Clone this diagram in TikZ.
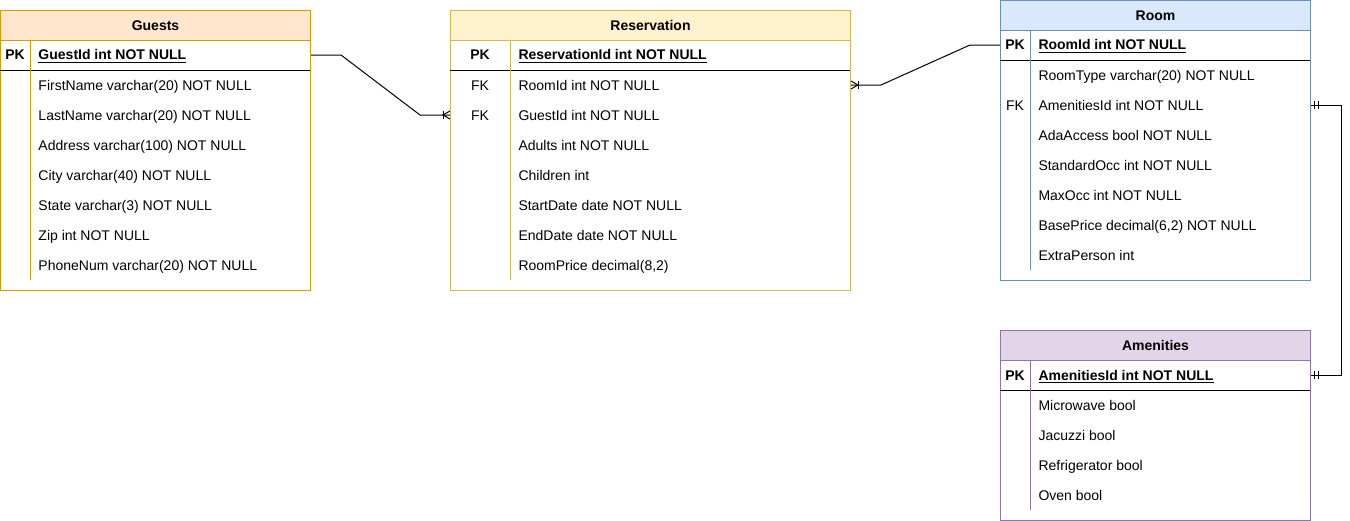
\documentclass[tikz,border=0pt]{standalone}
\usepackage{fontspec}
\setmainfont{Liberation Sans}
\usetikzlibrary{positioning, calc}

\definecolor{guestfill}{HTML}{FFE6CC}
\definecolor{guestline}{HTML}{D79B00}
\definecolor{resfill}{HTML}{FFF2CC}
\definecolor{resline}{HTML}{D6B656}
\definecolor{roomfill}{HTML}{DAE8FC}
\definecolor{roomline}{HTML}{6C8EBF}
\definecolor{amenfill}{HTML}{E1D5E7}
\definecolor{amenline}{HTML}{9673A6}

\begin{document}
\begin{tikzpicture}[x=0.75pt, y=-0.75pt, line width=0.75pt,
  every node/.style={font=\fontsize{10.5}{12}\selectfont, inner sep=0pt, text height=7.5pt, text depth=0pt},
  field/.style={anchor=west},
  keyfield/.style={anchor=west, font=\fontsize{10.5}{12}\selectfont\bfseries},
  keytag/.style={font=\fontsize{10.5}{12}\selectfont\bfseries},
  head/.style={draw, font=\fontsize{10.5}{12}\selectfont\bfseries, minimum height=22.5pt, anchor=north west},
  body/.style={draw, anchor=north west}]
\useasboundingbox (0,0) rectangle (1350,521);

% Guests
\node[head, fill=guestfill, draw=guestline, minimum width=232.5pt] (guests-head) at (0,10) {Guests};
\node[body, draw=guestline, minimum width=232.5pt, minimum height=187.5pt] (guests) at (0,40) {};
\draw (guests.north west) ++(0,30) -- ++(310,0);
\draw[guestline] (guests.north west) ++(30,0) -- ++(0,240);
\node[keytag] (g-pk-tag) at (15,55) {PK};
\node[keyfield] (g-pk) at (38,55) {\underline{GuestId int NOT NULL}};
\node[field] (g-first) at (38,85) {FirstName varchar(20) NOT NULL};
\node[field] (g-last) at (38,115) {LastName varchar(20) NOT NULL};
\node[field] (g-addr) at (38,145) {Address varchar(100) NOT NULL};
\node[field] (g-city) at (38,175) {City varchar(40) NOT NULL};
\node[field] (g-state) at (38,205) {State varchar(3) NOT NULL};
\node[field] (g-zip) at (38,235) {Zip int NOT NULL};
\node[field] (g-phone) at (38,265) {PhoneNum varchar(20) NOT NULL};

% Reservation
\node[head, fill=resfill, draw=resline, minimum width=300pt] (res-head) at (450,10) {Reservation};
\node[body, draw=resline, minimum width=300pt, minimum height=187.5pt] (res) at (450,40) {};
\draw (res.north west) ++(0,30) -- ++(400,0);
\draw[resline] (res.north west) ++(60,0) -- ++(0,240);
\node[keytag] (r-pk-tag) at (480,55) {PK};
\node[keyfield] (r-pk) at (518,55) {\underline{ReservationId int NOT NULL}};
\node (r-rid-tag) at (480,85) {FK};
\node[field] (r-rid) at (518,85) {RoomId int NOT NULL};
\node (r-gid-tag) at (480,115) {FK};
\node[field] (r-gid) at (518,115) {GuestId int NOT NULL};
\node[field] (r-adults) at (518,145) {Adults int NOT NULL};
\node[field] (r-child) at (518,175) {Children int};
\node[field] (r-start) at (518,205) {StartDate date NOT NULL};
\node[field] (r-end) at (518,235) {EndDate date NOT NULL};
\node[field] (r-price) at (518,265) {RoomPrice decimal(8,2)};

% Room
\node[head, fill=roomfill, draw=roomline, minimum width=232.5pt] (room-head) at (1000,0) {Room};
\node[body, draw=roomline, minimum width=232.5pt, minimum height=187.5pt] (room) at (1000,30) {};
\draw (room.north west) ++(0,30) -- ++(310,0);
\draw[roomline] (room.north west) ++(30,0) -- ++(0,240);
\node[keytag] (m-pk-tag) at (1015,45) {PK};
\node[keyfield] (m-pk) at (1038,45) {\underline{RoomId int NOT NULL}};
\node[field] (m-type) at (1038,75) {RoomType varchar(20) NOT NULL};
\node (m-aid-tag) at (1015,105) {FK};
\node[field] (m-aid) at (1038,105) {AmenitiesId int NOT NULL};
\node[field] (m-ada) at (1038,135) {AdaAccess bool NOT NULL};
\node[field] (m-std) at (1038,165) {StandardOcc int NOT NULL};
\node[field] (m-max) at (1038,195) {MaxOcc int NOT NULL};
\node[field] (m-base) at (1038,225) {BasePrice decimal(6,2) NOT NULL};
\node[field] (m-extra) at (1038,255) {ExtraPerson int};

% Amenities
\node[head, fill=amenfill, draw=amenline, minimum width=232.5pt] (amen-head) at (1000,330) {Amenities};
\node[body, draw=amenline, minimum width=232.5pt, minimum height=120pt] (amen) at (1000,360) {};
\draw (amen.north west) ++(0,30) -- ++(310,0);
\draw[amenline] (amen.north west) ++(30,0) -- ++(0,150);
\node[keytag] (a-pk-tag) at (1015,375) {PK};
\node[keyfield] (a-pk) at (1038,375) {\underline{AmenitiesId int NOT NULL}};
\node[field] (a-micro) at (1038,405) {Microwave bool};
\node[field] (a-jac) at (1038,435) {Jacuzzi bool};
\node[field] (a-fridge) at (1038,465) {Refrigerator bool};
\node[field] (a-oven) at (1038,495) {Oven bool};

% Guests -> Reservation
\draw (g-pk -| guests.east) -- ++(30,0) -- ($(r-gid -| res.west)+(-30,0)$) -- (r-gid -| res.west);
\draw ($(r-gid -| res.west)+(-7,-4)$) -- ++(0,8);
\draw ($(r-gid -| res.west)+(0,-4)$) -- ++(-7,4) -- ++(7,4);

% Reservation -> Room
\draw (r-rid -| res.east) -- ++(30,0) -- ($(m-pk -| room.west)+(-30,0)$) -- (m-pk -| room.west);
\draw ($(r-rid -| res.east)+(7,-4)$) -- ++(0,8);
\draw ($(r-rid -| res.east)+(0,-4)$) -- ++(7,4) -- ++(-7,4);

% Room -> Amenities
\draw (m-aid -| room.east) -- ++(30,0) |- (a-pk -| amen.east);
\draw ($(m-aid -| room.east)+(3,-4)$) -- ++(0,8);
\draw ($(m-aid -| room.east)+(7,-4)$) -- ++(0,8);
\draw ($(a-pk -| amen.east)+(3,-4)$) -- ++(0,8);
\draw ($(a-pk -| amen.east)+(7,-4)$) -- ++(0,8);
\end{tikzpicture}
\end{document}
